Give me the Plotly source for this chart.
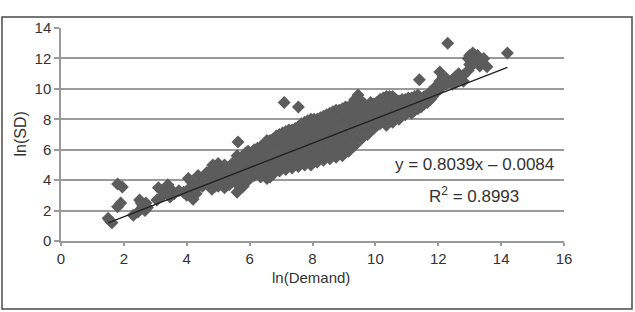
import plotly.graph_objects as go

# ln(Demand) values (x) and ln(SD) values (y)
ln_demand = [
    1.50, 1.62, 1.55, 1.80, 1.95, 1.80, 1.90, 2.30, 2.45, 2.50, 2.60, 2.67, 2.75,
    3.10, 3.40, 3.05, 3.25, 3.47, 3.35, 3.60,
    3.90, 4.05, 4.20, 4.10, 4.36, 4.30, 4.50, 4.50, 4.64, 4.70, 4.80, 4.85, 4.83,
    5.00, 5.00, 5.00, 5.00,
    5.20, 5.20, 5.20, 5.20,
    5.45, 5.45, 5.45,
    5.60, 5.60, 5.60, 5.60, 5.60, 5.63,
    5.80, 5.80, 5.80, 5.80,
    5.95, 5.95, 5.95, 5.95,
    6.15, 6.15, 6.15, 6.15,
    6.35, 6.35, 6.35, 6.35,
    6.55, 6.55, 6.55, 6.55, 6.55,
    6.75, 6.75, 6.75, 6.75, 6.75,
    6.95, 6.95, 6.95, 6.95, 6.95,
    7.15, 7.15, 7.15, 7.15, 7.15, 7.10,
    7.35, 7.35, 7.35, 7.35, 7.35,
    7.55, 7.55, 7.55, 7.55, 7.55, 7.55,
    7.75, 7.75, 7.75, 7.75, 7.75,
    7.95, 7.95, 7.95, 7.95, 7.95,
    8.15, 8.15, 8.15, 8.15, 8.15,
    8.35, 8.35, 8.35, 8.35, 8.35,
    8.55, 8.55, 8.55, 8.55, 8.55,
    8.75, 8.75, 8.75, 8.75, 8.75,
    8.95, 8.95, 8.95, 8.95, 8.95,
    9.15, 9.15, 9.15, 9.15, 9.15,
    9.35, 9.35, 9.35, 9.35, 9.35, 9.45,
    9.55, 9.55, 9.55, 9.55, 9.55,
    9.75, 9.75, 9.75, 9.75,
    9.95, 9.95, 9.95, 9.95,
    10.15, 10.15, 10.15, 10.15,
    10.35, 10.35, 10.35, 10.35,
    10.55, 10.55, 10.55, 10.55,
    10.75, 10.75, 10.75,
    10.95, 10.95, 10.95,
    11.15, 11.15, 11.15,
    11.35, 11.35, 11.35, 11.40,
    11.55, 11.55,
    11.75, 11.75,
    11.90, 11.90,
    12.05, 12.05, 12.05,
    12.30,
    12.25, 12.25,
    12.45, 12.45,
    12.65, 12.65,
    12.80, 12.80,
    12.95, 12.95,
    13.10, 13.10,
    13.25, 13.25,
    13.40, 13.55,
    14.20,
]
ln_sd = [
    1.50, 1.20, 1.35, 3.75, 3.55, 2.25, 2.50, 1.70, 1.90, 2.70, 2.30, 2.00, 2.20,
    3.50, 3.70, 2.70, 3.00, 2.90, 3.20, 3.10,
    3.20, 4.10, 2.75, 3.50, 4.30, 3.10, 3.60, 4.00, 4.50, 3.80, 3.40, 4.30, 5.00,
    3.60, 4.20, 4.70, 5.10,
    3.50, 4.00, 4.60, 5.00,
    3.90, 4.50, 5.10,
    3.20, 3.80, 4.40, 5.00, 5.60, 6.50,
    3.60, 4.30, 4.90, 5.60,
    4.00, 4.60, 5.20, 5.90,
    4.30, 4.90, 5.50, 6.00,
    4.20, 4.80, 5.40, 6.20,
    4.10, 4.70, 5.30, 5.90, 6.60,
    4.40, 5.00, 5.60, 6.30, 6.70,
    4.60, 5.20, 5.80, 6.40, 7.00,
    4.70, 5.30, 6.00, 6.60, 7.20, 9.10,
    4.80, 5.40, 6.10, 6.80, 7.30,
    4.90, 5.60, 6.30, 6.90, 7.50, 8.80,
    5.00, 5.70, 6.40, 7.10, 7.80,
    5.00, 5.80, 6.50, 7.30, 8.00,
    5.20, 5.90, 6.70, 7.40, 8.00,
    5.30, 6.10, 6.80, 7.50, 8.20,
    5.40, 6.20, 7.00, 7.70, 8.40,
    5.50, 6.30, 7.10, 7.90, 8.60,
    5.60, 6.40, 7.20, 8.00, 8.70,
    5.90, 6.70, 7.40, 8.10, 8.80,
    6.30, 7.00, 7.70, 8.40, 9.30, 9.60,
    6.70, 7.30, 8.00, 8.70, 9.20,
    7.00, 7.60, 8.20, 8.75,
    7.40, 7.90, 8.40, 9.00,
    7.70, 8.20, 8.80, 9.30,
    7.60, 8.30, 8.90, 9.50,
    7.80, 8.40, 9.00, 9.50,
    8.00, 8.60, 9.20,
    8.30, 8.80, 9.30,
    8.40, 8.90, 9.40,
    8.70, 9.20, 9.60, 10.60,
    9.00, 9.50,
    9.30, 9.80,
    9.70, 10.10,
    10.00, 10.50, 11.10,
    13.00,
    10.30, 10.70,
    10.30, 10.60,
    10.60, 11.00,
    10.50, 10.90,
    11.20, 12.00,
    11.60, 12.35,
    11.90, 12.20,
    11.70, 11.45,
    12.35,
]

# Further observations that fill the dense middle of the cloud
ln_demand_b = [
    2.55, 2.70, 3.20, 3.50, 3.75, 4.00, 4.15, 4.25, 4.40, 4.60, 4.75, 4.90,
    4.95, 4.95, 4.95,
    5.35, 5.35, 5.35,
    5.70, 5.70, 5.70, 5.70,
    5.88, 5.88, 5.88, 5.88,
    6.05, 6.05, 6.05, 6.05,
    6.25, 6.25, 6.25, 6.25,
    6.45, 6.45, 6.45, 6.45,
    6.65, 6.65, 6.65, 6.65, 6.65,
    6.85, 6.85, 6.85, 6.85, 6.85,
    7.05, 7.05, 7.05, 7.05, 7.05,
    7.25, 7.25, 7.25, 7.25, 7.25,
    7.45, 7.45, 7.45, 7.45, 7.45,
    7.65, 7.65, 7.65, 7.65, 7.65,
    7.85, 7.85, 7.85, 7.85, 7.85,
    8.05, 8.05, 8.05, 8.05, 8.05,
    8.25, 8.25, 8.25, 8.25, 8.25,
    8.45, 8.45, 8.45, 8.45, 8.45,
    8.65, 8.65, 8.65, 8.65, 8.65,
    8.85, 8.85, 8.85, 8.85, 8.85,
    9.05, 9.05, 9.05, 9.05, 9.05,
    9.25, 9.25, 9.25, 9.25, 9.25,
    9.45, 9.45, 9.45, 9.45,
    9.65, 9.65, 9.65, 9.65,
    9.85, 9.85, 9.85, 9.85,
    10.05, 10.05, 10.05, 10.05,
    10.25, 10.25, 10.25, 10.25,
    10.45, 10.45, 10.45, 10.45,
    10.65, 10.65, 10.65,
    10.85, 10.85, 10.85,
    11.05, 11.05, 11.05,
    11.25, 11.25, 11.25,
    11.45, 11.45,
    11.65, 11.65,
    11.82, 11.82,
    12.15, 12.15,
    12.55, 12.55,
    12.72,
    13.00, 13.00,
    13.18, 13.32, 13.45,
]
ln_sd_b = [
    2.50, 2.50, 3.30, 3.40, 3.30, 3.00, 3.90, 3.30, 3.80, 4.10, 4.60, 3.60,
    3.90, 4.40, 4.90,
    3.70, 4.30, 4.80,
    3.50, 4.10, 4.70, 5.30,
    3.90, 4.50, 5.30, 5.80,
    4.20, 4.80, 5.40, 5.80,
    4.50, 5.20, 5.80, 6.10,
    4.40, 5.00, 5.60, 6.30,
    4.20, 4.90, 5.60, 6.10, 6.60,
    4.70, 5.30, 6.00, 6.60, 6.90,
    4.90, 5.50, 6.10, 6.70, 7.10,
    5.00, 5.70, 6.30, 6.90, 7.30,
    5.10, 5.80, 6.50, 7.10, 7.40,
    5.30, 5.90, 6.60, 7.30, 7.70,
    5.30, 6.10, 6.80, 7.50, 7.90,
    5.50, 6.20, 6.90, 7.60, 8.00,
    5.60, 6.40, 7.10, 7.80, 8.10,
    5.70, 6.50, 7.30, 8.00, 8.30,
    5.80, 6.60, 7.40, 8.10, 8.50,
    5.90, 6.70, 7.50, 8.30, 8.60,
    6.10, 6.90, 7.60, 8.40, 8.80,
    6.50, 7.20, 7.90, 8.60, 9.00,
    6.90, 7.60, 8.30, 9.00,
    7.10, 7.80, 8.50, 9.00,
    7.30, 7.90, 8.60, 9.10,
    7.60, 8.10, 8.60, 9.10,
    7.90, 8.50, 9.10, 9.40,
    8.00, 8.60, 9.20, 9.50,
    8.10, 8.70, 9.30,
    8.40, 8.90, 9.30,
    8.60, 9.10, 9.40,
    8.60, 9.10, 9.50,
    8.80, 9.30,
    9.10, 9.60,
    9.50, 9.90,
    10.20, 10.80,
    10.40, 10.80,
    10.80,
    11.60, 12.20,
    12.00, 11.50, 12.00,
]

# Linear trendline as printed on the chart
SLOPE = 0.8039
INTERCEPT = -0.0084
trend_x = [min(ln_demand), max(ln_demand)]
trend_y = [SLOPE * v + INTERCEPT for v in trend_x]

x_ticks = [0, 2, 4, 6, 8, 10, 12, 14, 16]
y_ticks = [0, 2, 4, 6, 8, 10, 12, 14]

FONT = "Liberation Sans, Arial, sans-serif"
GRID = "#9a9a9a"
TXT = "#333333"

fig = go.Figure()
fig.add_trace(go.Scatter(
    x=ln_demand + ln_demand_b, y=ln_sd + ln_sd_b, mode="markers",
    marker=dict(symbol="diamond", size=10, color="#5c5c5c", line=dict(width=0)),
    showlegend=False, hoverinfo="skip",
))
fig.add_trace(go.Scatter(
    x=trend_x, y=trend_y, mode="lines",
    line=dict(color="#222222", width=1.3),
    showlegend=False, hoverinfo="skip",
))

fig.update_layout(
    width=635, height=312,
    margin=dict(l=61, r=71, t=28, b=71),
    paper_bgcolor="white", plot_bgcolor="white",
    font=dict(family=FONT, size=15, color=TXT),
    xaxis=dict(
        range=[0, 16], tickvals=x_ticks, ticktext=[str(v) for v in x_ticks],
        showgrid=False, zeroline=False,
        showline=True, linecolor=GRID, linewidth=1.5,
        ticks="outside", ticklen=3, tickcolor=GRID, tickwidth=1.5,
        tickfont=dict(size=15, color=TXT),
    ),
    yaxis=dict(
        range=[0, 14], tickvals=y_ticks, ticktext=[str(v) for v in y_ticks],
        showgrid=True, gridcolor=GRID, gridwidth=1.5, zeroline=False,
        showline=True, linecolor=GRID, linewidth=1.5,
        ticks="outside", ticklen=5, tickcolor=GRID, tickwidth=1.5,
        tickfont=dict(size=15, color=TXT),
    ),
    shapes=[dict(
        type="rect", xref="paper", yref="paper",
        x0=-0.1173, x1=1.1352, y0=-0.3192, y1=1.0516,
        line=dict(color="#4a4a4a", width=1.5), fillcolor="rgba(0,0,0,0)",
        layer="above",
    )],
    annotations=[
        dict(text="ln(Demand)", xref="paper", yref="paper", x=0.497, y=-0.17,
             showarrow=False, font=dict(size=15, color=TXT),
             xanchor="center", yanchor="middle"),
        dict(text="ln(SD)", xref="paper", yref="paper", x=-0.0815, y=0.5,
             showarrow=False, textangle=-90, font=dict(size=16, color=TXT),
             xanchor="center", yanchor="middle"),
        dict(text="y = 0.8039x \u2013 0.0084", xref="x", yref="y", x=13.14, y=5.0,
             showarrow=False, font=dict(size=17, color=TXT),
             xanchor="center", yanchor="middle", bgcolor="white"),
        dict(text="R<sup>2</sup> = 0.8993", xref="x", yref="y", x=13.14, y=3.0,
             showarrow=False, font=dict(size=17, color=TXT),
             xanchor="center", yanchor="middle", bgcolor="white"),
    ],
)

fig.write_html("out.html")
